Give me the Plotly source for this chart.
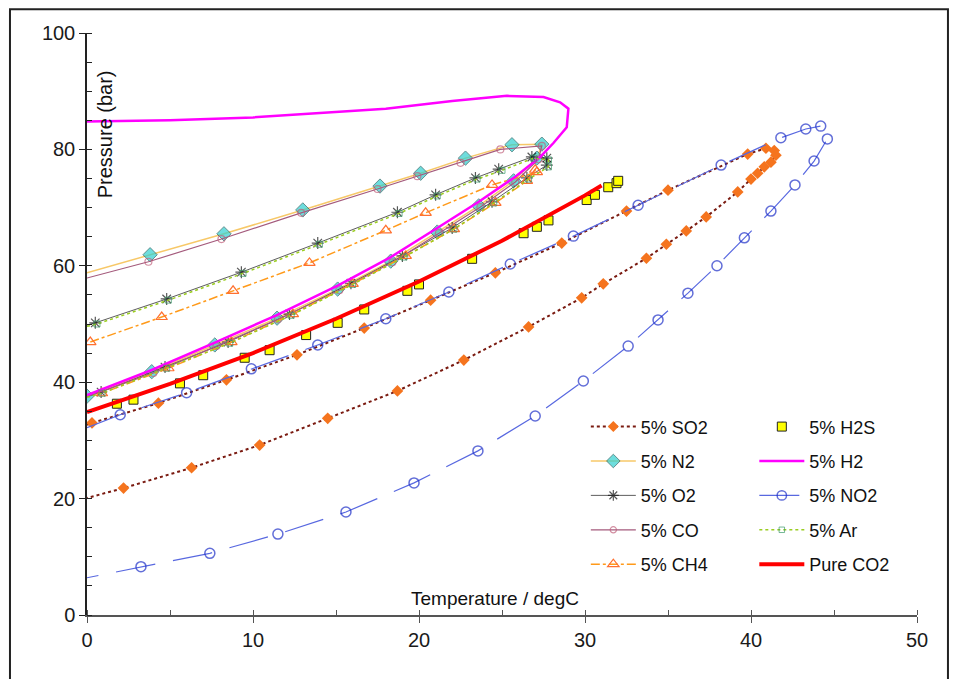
import plotly.graph_objects as go

# Phase envelopes of CO2 with 5% impurities (temperature degC, pressure bar)
SO2_T = [0, 0.3, 4.3, 8.4, 12.65, 16.7, 20.7, 24.6, 28.6, 32.5, 35.0, 39.8, 40.9, 41.4, 41.5, 41.2, 40.8, 40.4, 40.0, 39.2, 37.3, 36.1, 34.9, 33.7, 31.1, 29.8, 26.6, 22.7, 18.7, 14.5, 10.4, 6.3, 2.2, 0]
SO2_P = [32.7, 33.0, 36.4, 40.4, 44.7, 49.3, 54.1, 58.8, 63.9, 69.4, 73.0, 79.2, 80.2, 79.8, 79.0, 77.8, 77.0, 75.9, 74.9, 72.7, 68.4, 66.0, 63.7, 61.3, 56.9, 54.5, 49.5, 43.8, 38.5, 33.8, 29.2, 25.3, 21.8, 20.1]

H2S_T = [1.8, 2.8, 5.6, 7.0, 9.5, 11.0, 13.2, 15.1, 16.7, 19.3, 20.0, 23.2, 26.3, 27.1, 27.8, 30.1, 30.6, 31.4, 31.9, 32.0]
H2S_P = [36.3, 37.0, 39.8, 41.2, 44.2, 45.5, 48.1, 50.2, 52.5, 55.7, 56.8, 61.2, 65.6, 66.7, 67.8, 71.3, 72.2, 73.5, 74.2, 74.6]

N2_T = [0, 3.8, 8.25, 13.0, 17.65, 20.1, 22.8, 25.6, 27.4, 27.1, 25.7, 23.6, 21.1, 18.3, 15.1, 11.45, 7.7, 3.9, 0]
N2_P = [58.8, 61.9, 65.5, 69.6, 73.7, 75.9, 78.5, 80.8, 80.9, 78.5, 74.6, 70.3, 65.8, 60.8, 56.0, 51.0, 46.4, 41.8, 37.6]

H2_T = [0, 5, 10, 14, 18, 22, 25.3, 27.5, 28.5, 29.0, 28.9, 28.1, 27.3, 25.8, 23.6, 21.1, 18.3, 15.1, 11.4, 7.7, 3.9, 0]
H2_P = [84.8, 85.0, 85.5, 86.2, 87.0, 88.3, 89.2, 89.0, 88.1, 87.0, 83.8, 81.1, 78.7, 75.3, 71.0, 66.5, 61.5, 56.6, 51.5, 46.8, 42.1, 37.8]

O2_T = [0, 0.5, 4.8, 9.3, 13.9, 18.7, 21.0, 23.4, 24.8, 26.8, 27.7, 27.7, 26.5, 24.4, 22.0, 19.0, 15.9, 12.2, 8.5, 4.7, 0.85, 0]
O2_P = [49.8, 50.2, 54.3, 58.9, 63.9, 69.2, 72.2, 75.1, 76.6, 78.7, 78.5, 77.3, 75.1, 71.0, 66.5, 61.7, 57.0, 51.7, 46.9, 42.6, 38.3, 37.5]

NO2_T = [0, 2.0, 6.0, 9.9, 13.9, 18.0, 21.8, 25.5, 29.3, 33.2, 38.2, 41.8, 43.3, 44.2, 44.6, 43.8, 42.65, 41.2, 39.6, 37.95, 36.2, 34.4, 32.6, 29.9, 27.0, 23.55, 19.7, 15.6, 11.5, 7.4, 3.25, 0]
NO2_P = [32.2, 34.4, 38.2, 42.3, 46.4, 50.9, 55.5, 60.3, 65.1, 70.4, 77.3, 82.0, 83.5, 84.0, 81.8, 78.0, 73.9, 69.4, 64.8, 60.0, 55.3, 50.7, 46.2, 40.2, 34.2, 28.2, 22.7, 17.7, 13.9, 10.6, 8.3, 6.4]

CO_T = [0, 3.7, 8.1, 12.9, 17.5, 19.9, 22.5, 24.9, 27.4, 27.2, 25.8, 23.7, 21.2, 18.4, 15.2, 11.5, 7.8, 4.0, 0]
CO_P = [57.9, 60.7, 64.6, 69.1, 73.2, 75.4, 77.7, 80.0, 80.6, 78.3, 74.4, 70.1, 65.6, 60.6, 55.8, 50.8, 46.2, 41.6, 37.5]

Ar_T = [0, 0.6, 4.9, 9.4, 14.0, 18.8, 21.1, 23.5, 25.0, 26.9, 27.8, 27.8, 26.6, 24.5, 22.1, 19.1, 16.0, 12.3, 8.6, 4.8, 0.9, 0]
Ar_P = [49.6, 50.0, 54.1, 58.7, 63.7, 69.0, 72.0, 74.9, 76.4, 78.5, 78.2, 77.0, 74.9, 70.8, 66.3, 61.5, 56.8, 51.5, 46.7, 42.4, 38.1, 37.4]

CH4_T = [0.2, 4.5, 8.8, 13.4, 18.0, 20.4, 24.4, 27.1, 27.0, 26.5, 24.6, 22.1, 19.2, 16.0, 12.4, 8.7, 4.9, 0.9]
CH4_P = [46.9, 51.2, 55.7, 60.5, 66.1, 69.1, 73.9, 76.1, 76.5, 74.6, 70.8, 66.3, 61.7, 56.9, 51.7, 46.9, 42.4, 38.1]

CO2_T = [0, 5, 10, 15, 20, 25, 30, 31]
CO2_P = [34.85, 39.7, 45.0, 50.9, 57.3, 64.3, 72.1, 73.8]


def msizes(n, s, skip=()):
    # line end points drawn without a marker
    return [0 if (i in skip or i - n in skip) else s for i in range(n)]


fig = go.Figure()

# column 1 of the legend
fig.add_trace(go.Scatter(x=SO2_T, y=SO2_P, name="5% SO2", mode="lines+markers",
                         line=dict(color="#7a1a10", width=2, dash="dot"),
                         marker=dict(symbol="diamond", color="#f5741e", opacity=1,
                                     size=msizes(len(SO2_T), 9, (0, -1)), line=dict(width=0)),
                         legend="legend", legendgroup="so2"))
fig.add_trace(go.Scatter(x=N2_T, y=N2_P, name="5% N2", mode="lines+markers",
                         line=dict(color="#f7c868", width=1.5),
                         marker=dict(symbol="diamond", color="#30d0d0", size=msizes(len(N2_T), 11, (0,)),
                                     line=dict(color="#1f5f5f", width=1)),
                         legend="legend", legendgroup="n2"))
fig.add_trace(go.Scatter(x=O2_T, y=O2_P, name="5% O2", mode="lines+markers",
                         line=dict(color="#333333", width=0.8),
                         marker=dict(symbol="asterisk-open", color="#111111", size=msizes(len(O2_T), 10, (0, -1)),
                                     line=dict(color="#111111", width=1.2)),
                         legend="legend", legendgroup="o2"))
fig.add_trace(go.Scatter(x=CO_T, y=CO_P, name="5% CO", mode="lines+markers",
                         line=dict(color="#a45a7c", width=1.2),
                         marker=dict(symbol="circle-open", color="#c0607a", size=msizes(len(CO_T), 7, (0, -1)),
                                     line=dict(width=1.2)),
                         legend="legend", legendgroup="co"))
fig.add_trace(go.Scatter(x=CH4_T, y=CH4_P, name="5% CH4", mode="lines+markers",
                         line=dict(color="#ff9a1a", width=1.5, dash="dashdot"),
                         marker=dict(symbol="triangle-up-open", color="#ff7030", size=10, line=dict(width=1.2)),
                         legend="legend", legendgroup="ch4"))

# column 2 of the legend
fig.add_trace(go.Scatter(x=H2S_T, y=H2S_P, name="5% H2S", mode="markers",
                         marker=dict(symbol="square", color="#ffff00", size=9,
                                     line=dict(color="#222222", width=1)),
                         legend="legend2", legendgroup="h2s"))
fig.add_trace(go.Scatter(x=H2_T, y=H2_P, name="5% H2", mode="lines",
                         line=dict(color="#ff00ff", width=2.5),
                         legend="legend2", legendgroup="h2"))
fig.add_trace(go.Scatter(x=NO2_T, y=NO2_P, name="5% NO2", mode="lines+markers",
                         line=dict(color="#5868e0", width=1.2, dash="40px,18px"),
                         marker=dict(symbol="circle-open", color="#2030c8", size=msizes(len(NO2_T), 10, (0, -1)),
                                     line=dict(width=1.5)),
                         legend="legend2", legendgroup="no2"))
fig.add_trace(go.Scatter(x=Ar_T, y=Ar_P, name="5% Ar", mode="lines+markers",
                         line=dict(color="#9acd20", width=1.5, dash="dot"),
                         marker=dict(symbol="square-open", color="#3a9a6a", size=msizes(len(Ar_T), 6, (0, -1)),
                                     line=dict(width=1)),
                         legend="legend2", legendgroup="ar"))
fig.add_trace(go.Scatter(x=CO2_T, y=CO2_P, name="Pure CO2", mode="lines",
                         line=dict(color="#ff0000", width=4),
                         legend="legend2", legendgroup="co2"))

legend_style = dict(yanchor="top", xanchor="left", bgcolor="rgba(0,0,0,0)",
                    font=dict(family="Liberation Sans, Arial", size=18, color="#111111"),
                    itemwidth=45, tracegroupgap=8, y=0.355)

# page body has an 8px margin, so the figure is 8px smaller than the window
fig.update_layout(
    width=950, height=671,
    margin=dict(l=79, r=41, t=25, b=64),
    plot_bgcolor="white", paper_bgcolor="white",
    font=dict(family="Liberation Sans, Arial", size=20, color="#1a1a1a"),
    legend=dict(x=0.601, **legend_style),
    legend2=dict(x=0.804, **legend_style),
    showlegend=True,
)
fig.update_xaxes(range=[0, 50], dtick=10, showgrid=False, zeroline=False,
                 showline=True, linecolor="#555555", linewidth=1.5,
                 ticks="outside", ticklen=6, tickcolor="#555555",
                 minor=dict(dtick=5, ticks="inside", ticklen=5, tickcolor="#555555"))
fig.update_yaxes(range=[0, 100], dtick=20, showgrid=False, zeroline=False,
                 showline=True, linecolor="#222222", linewidth=1.5,
                 ticks="outside", ticklen=6, tickcolor="#222222",
                 minor=dict(dtick=5, ticks="inside", ticklen=5, tickcolor="#222222"))

fig.add_annotation(text="Pressure (bar)", textangle=-90, xref="paper", yref="paper",
                   x=0.0217, y=0.826, xanchor="center", yanchor="middle", showarrow=False,
                   font=dict(size=20, color="#111111"))
fig.add_annotation(text="Temperature / degC", xref="paper", yref="paper",
                   x=0.4916, y=0.029, xanchor="center", yanchor="middle", showarrow=False,
                   font=dict(size=19, color="#111111"))

# outer frame of the figure
fig.add_shape(type="rect", xref="paper", yref="paper",
              x0=-0.0928, x1=1.0373, y0=-0.2, y1=1.041,
              line=dict(color="#222222", width=2))

fig.write_html("out.html")
